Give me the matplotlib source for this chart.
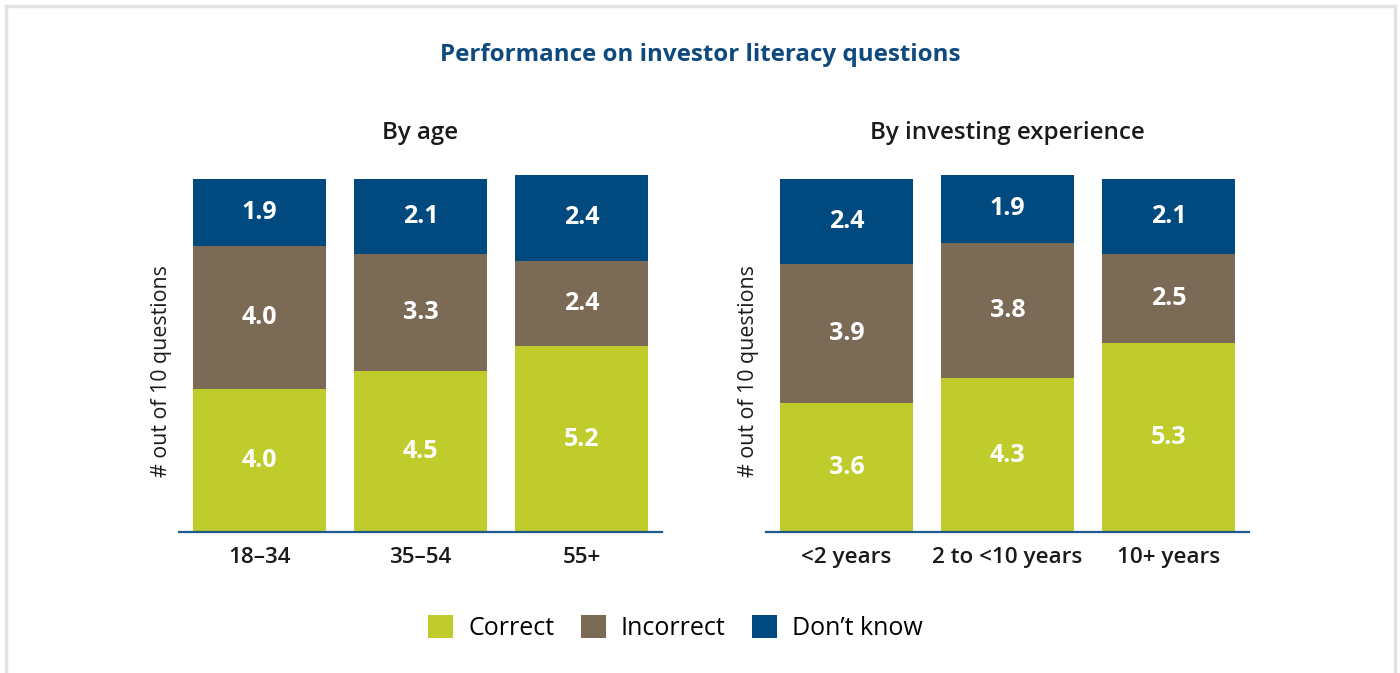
import matplotlib
matplotlib.use("Agg")
import matplotlib.pyplot as plt
from matplotlib.patches import Rectangle, Patch

plt.rcParams['font.family'] = ['Open Sans', 'DejaVu Sans']

# Data
age_groups = ["18–34", "35–54", "55+"]
age_correct = [4.0, 4.5, 5.2]
age_incorrect = [4.0, 3.3, 2.4]
age_dont_know = [1.9, 2.1, 2.4]

exp_groups = ["<2 years", "2 to <10 years", "10+ years"]
exp_correct = [3.6, 4.3, 5.3]
exp_incorrect = [3.9, 3.8, 2.5]
exp_dont_know = [2.4, 1.9, 2.1]

series_names = ["Correct", "Incorrect", "Don’t know"]
colors = ["#BFCC2B", "#7B6A55", "#004A80"]
navy = "#0F4A7E"

W, H = 1400, 673
fig = plt.figure(figsize=(W / 100, H / 100), dpi=100)

# light frame around the panel
fig.patches.append(Rectangle((6 / W, -0.05), (1395 - 6) / W, 1.05 - 6 / H,
                             transform=fig.transFigure, fill=False,
                             edgecolor="#E3E3E3", linewidth=2.5, zorder=0))

fig.text(0.5, 1 - 55 / H, "Performance on investor literacy questions",
         ha="center", va="center", fontsize=17.4, fontweight="bold", color=navy)


def panel(left_px, cats, correct, incorrect, dont_know, title):
    ax = fig.add_axes([left_px / W, (H - 532) / H, 483 / W, 357 / H])
    x = range(len(cats))
    stacks = [correct, incorrect, dont_know]
    bottoms = [0.0] * len(cats)
    for vals, col in zip(stacks, colors):
        bars = ax.bar(x, vals, width=0.83, bottom=bottoms, color=col, linewidth=0)
        for b, v, bt in zip(bars, vals, bottoms):
            ax.text(b.get_x() + b.get_width() / 2, bt + v / 2, f"{v:.1f}",
                    ha="center", va="center", color="white",
                    fontsize=18, fontweight="bold")
        bottoms = [bt + v for bt, v in zip(bottoms, vals)]
    ax.set_xlim(-0.5, 2.5)
    ax.set_ylim(0, 10)
    ax.set_xticks(list(x))
    ax.set_xticklabels(cats, fontsize=16.2, fontweight="semibold", color="#1A1A1A")
    ax.tick_params(axis="x", length=0, pad=10.5)
    ax.set_yticks([])
    for s in ["top", "left", "right"]:
        ax.spines[s].set_visible(False)
    ax.spines["bottom"].set_color("#1F5A8C")
    ax.spines["bottom"].set_linewidth(1.6)
    ax.set_title(title, fontsize=17.4, fontweight="semibold", color="#1A1A1A", pad=26)
    ax.set_ylabel("# out of 10 questions", fontsize=15.4, color="#1A1A1A")
    ax.yaxis.set_label_coords(-0.015, 0.45)
    return ax


panel(179, age_groups, age_correct, age_incorrect, age_dont_know, "By age")
panel(766, exp_groups, exp_correct, exp_incorrect, exp_dont_know, "By investing experience")

handles = [Patch(facecolor=c, edgecolor="none") for c in colors]
fig.legend(handles, series_names, loc="center", bbox_to_anchor=(0.4825, 1 - 628 / H),
           ncol=3, frameon=False, fontsize=18, handlelength=1.0, handleheight=1.0,
           handletextpad=0.6, columnspacing=1.05)

fig.savefig("out.png", dpi=100)
